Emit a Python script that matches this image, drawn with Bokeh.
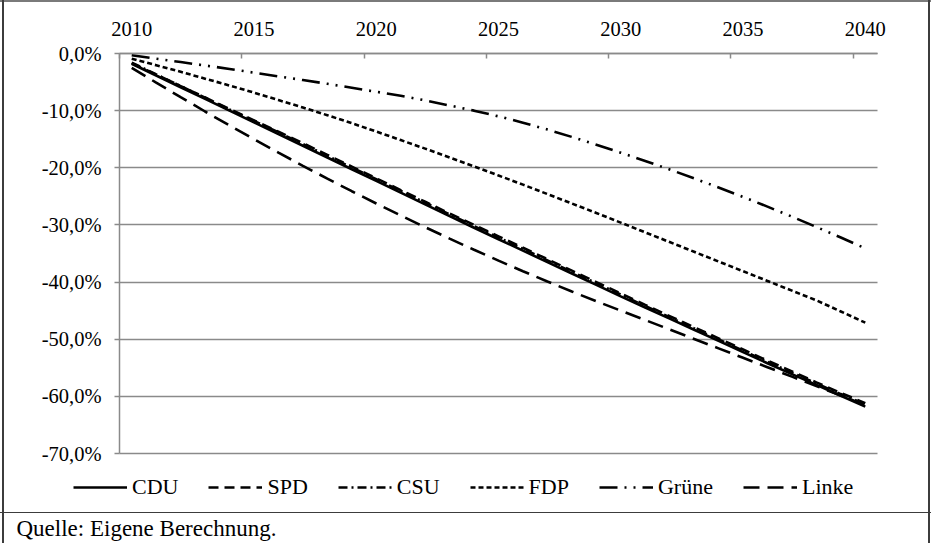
from bokeh.plotting import figure
from bokeh.models import Range1d, FixedTicker, Legend, LegendItem, Label
from bokeh.embed import file_html
from bokeh.resources import INLINE

# ---------------- data ----------------
years = list(range(2010, 2041))

cdu = [-1.8, -3.85, -5.9, -7.95, -10.0, -12.05, -14.1, -16.15, -18.2, -20.25,
       -22.3, -24.35, -26.4, -28.45, -30.5, -32.5, -34.5, -36.5, -38.5, -40.5,
       -42.5, -44.45, -46.4, -48.35, -50.3, -52.25, -54.2, -56.1, -58.0, -59.9, -61.8]
spd = [-1.7, -3.7, -5.7, -7.7, -9.7, -11.7, -13.7, -15.7, -17.75, -19.8,
       -21.85, -23.9, -25.95, -28.0, -30.0, -32.0, -34.0, -36.0, -38.0, -40.0,
       -42.0, -44.0, -45.95, -47.9, -49.85, -51.8, -53.75, -55.65, -57.55, -59.4, -61.2]
csu = [-1.6, -3.65, -5.7, -7.75, -9.8, -11.8, -13.8, -15.85, -17.9, -19.95,
       -22.0, -24.05, -26.1, -28.15, -30.2, -32.2, -34.2, -36.2, -38.2, -40.2,
       -42.2, -44.2, -46.15, -48.1, -50.05, -52.0, -53.95, -55.85, -57.75, -59.6, -61.4]
fdp = [-0.9, -2.05, -3.2, -4.4, -5.6, -6.85, -8.15, -9.45, -10.8, -12.2,
       -13.65, -15.15, -16.65, -18.2, -19.75, -21.35, -22.95, -24.6, -26.25, -27.9,
       -29.6, -31.3, -33.0, -34.7, -36.4, -38.1, -39.8, -41.5, -43.2, -45.15, -47.1]
gruene = [-0.3, -0.9, -1.5, -2.1, -2.7, -3.35, -4.0, -4.65, -5.3, -6.0,
          -6.7, -7.4, -8.2, -9.1, -10.0, -11.0, -12.1, -13.3, -14.6, -15.95,
          -17.35, -18.8, -20.3, -21.85, -23.45, -25.1, -26.8, -28.55, -30.35, -32.2, -34.1]
linke = [-2.5, -5.1, -7.65, -10.15, -12.6, -15.0, -17.35, -19.65, -21.9, -24.1,
         -26.25, -28.35, -30.4, -32.4, -34.35, -36.25, -38.1, -39.9, -41.65, -43.35,
         -45.0, -46.65, -48.3, -49.95, -51.6, -53.25, -54.9, -56.55, -58.2, -59.85, -61.5]

series_names = ["CDU", "SPD", "CSU", "FDP", "Grüne", "Linke"]
series_values = [cdu, spd, csu, fdp, gruene, linke]

x_label_years = [2010, 2015, 2020, 2025, 2030, 2035, 2040]
x_tick_bounds = [2009.5, 2014.5, 2019.5, 2024.5, 2029.5, 2034.5, 2039.5]
y_ticks = [0, -10, -20, -30, -40, -50, -60, -70]
y_tick_labels = ["0,0%", "-10,0%", "-20,0%", "-30,0%", "-40,0%", "-50,0%", "-60,0%", "-70,0%"]
source_note = "Quelle: Eigene Berechnung."

# ---------------- layout / styles ----------------
FONT = "Liberation Serif, Times New Roman, serif"
GRAY = "#8a8a8a"
DARK = "#3c3c3c"
dashes = ["solid", "10 6", "9 4 2 4", "5 3", "18 7 2 7 2 7", "16 8"]

W, H = 931, 543
PLOT_LEFT, PLOT_W = 119, 758   # pixel extent of the chart area
PLOT_TOP, PLOT_H = 53, 400
X0, X1 = 2009.5, 2040.5
Y0, Y1 = -70, 0
px_x = PLOT_W / (X1 - X0)
px_y = PLOT_H / (Y1 - Y0)
x_range = Range1d(X0 - PLOT_LEFT / px_x, X0 + (W - PLOT_LEFT) / px_x)
y_range = Range1d(Y0 - (H - PLOT_TOP - PLOT_H) / px_y, Y1 + PLOT_TOP / px_y)

frame_lines = (
    "linear-gradient(to right, transparent 2.5px, {d} 2.5px, {d} 4px, transparent 4px, "
    "transparent 928.5px, {d} 928.5px, {d} 930px, transparent 930px), "
    "linear-gradient(to bottom, #7a7a7a 0px, #7a7a7a 2.5px, transparent 2.5px, "
    "transparent 512px, {d} 512px, {d} 513.5px, transparent 513.5px)"
).format(d=DARK)

p = figure(width=W, height=H, output_backend="svg", toolbar_location=None,
           x_range=x_range, y_range=y_range, x_axis_location="above",
           min_border_left=0, min_border_right=0,
           min_border_top=0, min_border_bottom=0,
           styles={"background": frame_lines})
p.title.visible = False
p.outline_line_color = None
p.background_fill_color = None
p.border_fill_color = None

xa = p.xaxis[0]
xa.fixed_location = Y1
xa.bounds = (X0, X1)
xa.ticker = FixedTicker(ticks=x_label_years, minor_ticks=x_tick_bounds)
xa.major_tick_in = 0
xa.major_tick_out = 0
xa.minor_tick_in = 5
xa.minor_tick_out = 0
xa.minor_tick_line_color = GRAY
xa.minor_tick_line_width = 1.5
xa.axis_line_color = GRAY
xa.axis_line_width = 1.5
xa.major_label_text_font = FONT
xa.major_label_text_font_size = "20.5px"
xa.major_label_text_color = "black"
xa.major_label_standoff = 18

ya = p.yaxis[0]
ya.fixed_location = X0
ya.bounds = (Y0, Y1)
ya.ticker = FixedTicker(ticks=y_ticks, minor_ticks=[])
ya.major_label_overrides = {t: l for t, l in zip(y_ticks, y_tick_labels)}
ya.major_tick_in = 0
ya.major_tick_out = 5
ya.major_tick_line_color = GRAY
ya.major_tick_line_width = 1.5
ya.axis_line_color = GRAY
ya.axis_line_width = 1.5
ya.major_label_text_font = FONT
ya.major_label_text_font_size = "20.5px"
ya.major_label_text_color = "black"
ya.major_label_standoff = 13

p.xgrid.visible = False
yg = p.ygrid[0]
yg.ticker = FixedTicker(ticks=y_ticks, minor_ticks=[])
yg.bounds = (Y0, Y1)
yg.grid_line_color = GRAY
yg.grid_line_width = 1.5
yg.grid_line_alpha = 1.0
if "cross_bounds" in yg.properties():
    yg.cross_bounds = (X0, X1)
else:
    yg.visible = False
    p.segment(x0=[X0] * len(y_ticks[1:]), x1=[X1] * len(y_ticks[1:]), y0=y_ticks[1:], y1=y_ticks[1:],
              line_color=GRAY, line_width=1.5)

renderers = []
for name, vals, dash in zip(series_names, series_values, dashes):
    r = p.line(years, vals, line_color="black", line_width=2.6, line_dash=dash)
    renderers.append(r)

legend = Legend(items=[LegendItem(label=n, renderers=[r]) for n, r in zip(series_names, renderers)],
                orientation="horizontal", location=(73, 43),
                border_line_color=None, background_fill_alpha=0,
                padding=0, margin=0, spacing=30,
                glyph_width=54, glyph_height=20, label_standoff=5,
                label_text_font=FONT, label_text_font_size="22px",
                label_text_color="black", label_height=22)
p.add_layout(legend)

note = Label(x=16, y=15, x_units="screen", y_units="screen", text=source_note,
             text_baseline="middle", text_font=FONT, text_font_size="23px", text_color="black")
p.add_layout(note)

open("out.html", "w").write(file_html(p, INLINE))
